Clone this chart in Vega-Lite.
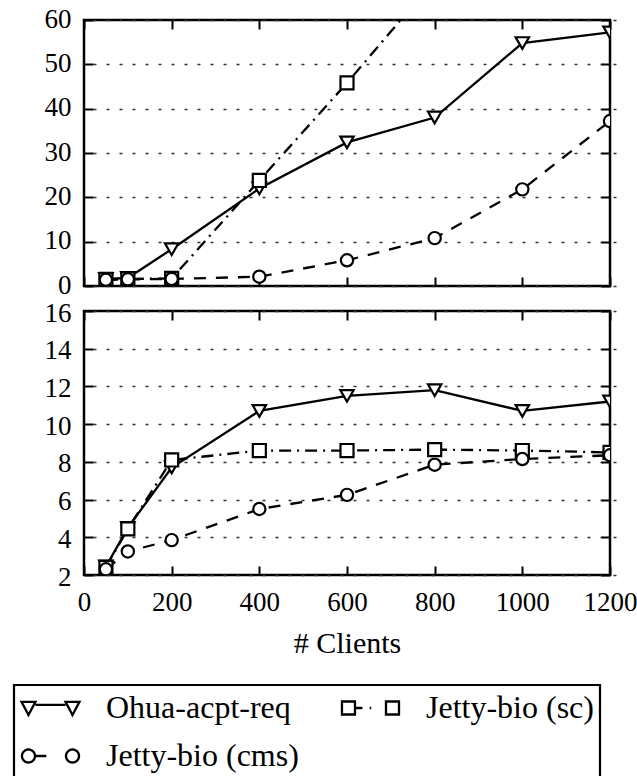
{
  "$schema": "https://vega.github.io/schema/vega-lite/v6.json",
  "background": "white",
  "padding": {"left": 12, "top": 3, "right": 0, "bottom": 0},
  "datasets": {
    "top": [
      {"series": "Ohua-acpt-req", "clients": 50, "value": 1.6},
      {"series": "Ohua-acpt-req", "clients": 100, "value": 1.8},
      {"series": "Ohua-acpt-req", "clients": 200, "value": 8.3},
      {"series": "Ohua-acpt-req", "clients": 400, "value": 22.0},
      {"series": "Ohua-acpt-req", "clients": 600, "value": 32.4},
      {"series": "Ohua-acpt-req", "clients": 800, "value": 38.0},
      {"series": "Ohua-acpt-req", "clients": 1000, "value": 54.8},
      {"series": "Ohua-acpt-req", "clients": 1200, "value": 57.2},
      {"series": "Jetty-bio (sc)", "clients": 50, "value": 1.5},
      {"series": "Jetty-bio (sc)", "clients": 100, "value": 1.6},
      {"series": "Jetty-bio (sc)", "clients": 200, "value": 1.7},
      {"series": "Jetty-bio (sc)", "clients": 400, "value": 23.8},
      {"series": "Jetty-bio (sc)", "clients": 600, "value": 45.8},
      {"series": "Jetty-bio (sc)", "clients": 800, "value": 69.0},
      {"series": "Jetty-bio (cms)", "clients": 50, "value": 1.4},
      {"series": "Jetty-bio (cms)", "clients": 100, "value": 1.5},
      {"series": "Jetty-bio (cms)", "clients": 200, "value": 1.6},
      {"series": "Jetty-bio (cms)", "clients": 400, "value": 2.1},
      {"series": "Jetty-bio (cms)", "clients": 600, "value": 5.8},
      {"series": "Jetty-bio (cms)", "clients": 800, "value": 10.8},
      {"series": "Jetty-bio (cms)", "clients": 1000, "value": 21.8},
      {"series": "Jetty-bio (cms)", "clients": 1200, "value": 37.2}
    ],
    "bottom": [
      {"series": "Ohua-acpt-req", "clients": 50, "value": 2.45},
      {"series": "Ohua-acpt-req", "clients": 100, "value": 4.5},
      {"series": "Ohua-acpt-req", "clients": 200, "value": 7.7},
      {"series": "Ohua-acpt-req", "clients": 400, "value": 10.7},
      {"series": "Ohua-acpt-req", "clients": 600, "value": 11.5},
      {"series": "Ohua-acpt-req", "clients": 800, "value": 11.8},
      {"series": "Ohua-acpt-req", "clients": 1000, "value": 10.7},
      {"series": "Ohua-acpt-req", "clients": 1200, "value": 11.2},
      {"series": "Jetty-bio (sc)", "clients": 50, "value": 2.4},
      {"series": "Jetty-bio (sc)", "clients": 100, "value": 4.45},
      {"series": "Jetty-bio (sc)", "clients": 200, "value": 8.1},
      {"series": "Jetty-bio (sc)", "clients": 400, "value": 8.6},
      {"series": "Jetty-bio (sc)", "clients": 600, "value": 8.6},
      {"series": "Jetty-bio (sc)", "clients": 800, "value": 8.65},
      {"series": "Jetty-bio (sc)", "clients": 1000, "value": 8.6},
      {"series": "Jetty-bio (sc)", "clients": 1200, "value": 8.5},
      {"series": "Jetty-bio (cms)", "clients": 50, "value": 2.3},
      {"series": "Jetty-bio (cms)", "clients": 100, "value": 3.25},
      {"series": "Jetty-bio (cms)", "clients": 200, "value": 3.85},
      {"series": "Jetty-bio (cms)", "clients": 400, "value": 5.5},
      {"series": "Jetty-bio (cms)", "clients": 600, "value": 6.25},
      {"series": "Jetty-bio (cms)", "clients": 800, "value": 7.85},
      {"series": "Jetty-bio (cms)", "clients": 1000, "value": 8.15},
      {"series": "Jetty-bio (cms)", "clients": 1200, "value": 8.35}
    ]
  },
  "bounds": "flush",
  "spacing": 25,
  "vconcat": [
    {
      "width": 526,
      "height": 266,
      "data": {"name": "top"},
      "encoding": {
        "x": {"field": "clients", "type": "quantitative", "scale": {"domain": [0, 1200]}, "axis": null},
        "y": {"field": "value", "type": "quantitative", "scale": {"domain": [0, 60]}, "axis": null}
      },
      "layer": [
        {
          "transform": [{"filter": "datum.series === 'Ohua-acpt-req'"}],
          "mark": {"type": "line", "clip": true, "strokeWidth": 2.3},
          "encoding": {
            "x": {"field": "clients", "type": "quantitative",
                  "axis": {"orient": "bottom", "values": [0, 200, 400, 600, 800, 1000, 1200], "labels": false, "title": null}},
            "y": {"field": "value", "type": "quantitative",
                  "axis": {"orient": "left", "values": [0, 10, 20, 30, 40, 50, 60], "grid": true, "title": null, "labelPadding": 13, "labelOffset": -1,
                           "labelFont": "Liberation Serif, DejaVu Serif, serif", "labelFontSize": 27, "labelColor": "black"}},
            "color": {
              "field": "series", "type": "nominal",
              "scale": {"domain": ["Ohua-acpt-req", "Jetty-bio (sc)", "Jetty-bio (cms)"], "range": ["black", "black", "black"]},
              "legend": {
                "orient": "none", "legendX": -70, "legendY": 665, "direction": "horizontal", "columns": 2, "title": null,
                "symbolSize": 961, "symbolStrokeWidth": 2.3, "symbolStrokeColor": "black", "symbolFillColor": "white", "symbolDash": [1, 0],
                "labelFont": "Liberation Serif, DejaVu Serif, serif", "labelFontSize": 32, "labelColor": "black", "labelOffset": 52, "labelLimit": 400,
                "columnPadding": 38, "rowPadding": 15, "padding": 6, "strokeColor": "black",
                "encode": {
                  "symbols": {"update": {
                    "shape": {"signal": "datum.value === 'Ohua-acpt-req' ? 'M-1,-0.4L-0.1,-0.4L-0.55,0.45Z M1.84,-0.4L2.74,-0.4L2.29,0.45Z M-0.1,-0.2H1.84' : datum.value === 'Jetty-bio (sc)' ? 'M-0.97,-0.42H-0.13V0.42H-0.97Z M1.87,-0.42H2.71V0.42H1.87Z M-0.13,0H0.35 M0.82,0H0.92' : 'M-0.97,0A0.42,0.42 0 1,0 -0.13,0A0.42,0.42 0 1,0 -0.97,0Z M1.87,0A0.42,0.42 0 1,0 2.71,0A0.42,0.42 0 1,0 1.87,0Z M-0.13,0H0.6'"},
                    "fill": {"value": "white"},
                    "stroke": {"value": "black"}
                  }},
                  "legend": {"update": {"strokeWidth": {"value": 2.2}}}
                }
              }
            }
          }
        },
        {
          "transform": [{"filter": "datum.series === 'Jetty-bio (sc)'"}],
          "mark": {"type": "line", "clip": true, "strokeWidth": 2.3, "strokeDash": [12, 6, 2, 6]},
          "encoding": {"color": {"field": "series", "type": "nominal", "legend": null}}
        },
        {
          "transform": [{"filter": "datum.series === 'Jetty-bio (cms)'"}],
          "mark": {"type": "line", "clip": true, "strokeWidth": 2.3, "strokeDash": [12, 10]},
          "encoding": {"color": {"field": "series", "type": "nominal", "legend": null}}
        },
        {
          "transform": [{"filter": "datum.series === 'Ohua-acpt-req'"}],
          "mark": {"type": "point", "shape": "triangle-down", "clip": true, "filled": true, "fill": "white", "stroke": "black", "strokeWidth": 2.2, "size": 180, "opacity": 1},
          "encoding": {
            "x": {"field": "clients", "type": "quantitative",
                  "axis": {"orient": "top", "values": [0, 200, 400, 600, 800, 1000, 1200], "labels": false, "title": null}},
            "y": {"field": "value", "type": "quantitative",
                  "axis": {"orient": "right", "values": [0, 10, 20, 30, 40, 50, 60], "labels": false, "title": null}}
          }
        },
        {
          "transform": [{"filter": "datum.series === 'Jetty-bio (sc)'"}],
          "mark": {"type": "point", "shape": "square", "clip": true, "filled": true, "fill": "white", "stroke": "black", "strokeWidth": 2.2, "size": 170, "opacity": 1}
        },
        {
          "transform": [{"filter": "datum.series === 'Jetty-bio (cms)'"}],
          "mark": {"type": "point", "shape": "circle", "clip": true, "filled": true, "fill": "white", "stroke": "black", "strokeWidth": 2.2, "size": 150, "opacity": 1}
        }
      ],
      "resolve": {"axis": {"x": "independent", "y": "independent"}}
    },
    {
      "width": 526,
      "height": 264,
      "data": {"name": "bottom"},
      "encoding": {
        "x": {"field": "clients", "type": "quantitative", "scale": {"domain": [0, 1200]}, "axis": null},
        "y": {"field": "value", "type": "quantitative", "scale": {"domain": [2, 16]}, "axis": null}
      },
      "layer": [
        {
          "transform": [{"filter": "datum.series === 'Ohua-acpt-req'"}],
          "mark": {"type": "line", "clip": true, "strokeWidth": 2.3},
          "encoding": {
            "x": {"field": "clients", "type": "quantitative",
                  "axis": {"orient": "bottom", "values": [0, 200, 400, 600, 800, 1000, 1200], "format": "d", "title": "# Clients", "labelPadding": 14,
                           "labelFont": "Liberation Serif, DejaVu Serif, serif", "labelFontSize": 27, "labelColor": "black",
                           "titleFont": "Liberation Serif, DejaVu Serif, serif", "titleFontSize": 30, "titleFontWeight": "normal", "titleColor": "black", "titlePadding": 13}},
            "y": {"field": "value", "type": "quantitative",
                  "axis": {"orient": "left", "values": [2, 4, 6, 8, 10, 12, 14, 16], "grid": true, "title": null, "labelPadding": 13, "labelOffset": 2,
                           "labelFont": "Liberation Serif, DejaVu Serif, serif", "labelFontSize": 27, "labelColor": "black"}},
            "color": {
              "field": "series", "type": "nominal",
              "scale": {"domain": ["Ohua-acpt-req", "Jetty-bio (sc)", "Jetty-bio (cms)"], "range": ["black", "black", "black"]},
              "legend": {
                "orient": "none", "legendX": -70, "legendY": 665, "direction": "horizontal", "columns": 2, "title": null,
                "symbolSize": 961, "symbolStrokeWidth": 2.3, "symbolStrokeColor": "black", "symbolFillColor": "white", "symbolDash": [1, 0],
                "labelFont": "Liberation Serif, DejaVu Serif, serif", "labelFontSize": 32, "labelColor": "black", "labelOffset": 52, "labelLimit": 400,
                "columnPadding": 38, "rowPadding": 15, "padding": 6, "strokeColor": "black",
                "encode": {
                  "symbols": {"update": {
                    "shape": {"signal": "datum.value === 'Ohua-acpt-req' ? 'M-1,-0.4L-0.1,-0.4L-0.55,0.45Z M1.84,-0.4L2.74,-0.4L2.29,0.45Z M-0.1,-0.2H1.84' : datum.value === 'Jetty-bio (sc)' ? 'M-0.97,-0.42H-0.13V0.42H-0.97Z M1.87,-0.42H2.71V0.42H1.87Z M-0.13,0H0.35 M0.82,0H0.92' : 'M-0.97,0A0.42,0.42 0 1,0 -0.13,0A0.42,0.42 0 1,0 -0.97,0Z M1.87,0A0.42,0.42 0 1,0 2.71,0A0.42,0.42 0 1,0 1.87,0Z M-0.13,0H0.6'"},
                    "fill": {"value": "white"},
                    "stroke": {"value": "black"}
                  }},
                  "legend": {"update": {"strokeWidth": {"value": 2.2}}}
                }
              }
            }
          }
        },
        {
          "transform": [{"filter": "datum.series === 'Jetty-bio (sc)'"}],
          "mark": {"type": "line", "clip": true, "strokeWidth": 2.3, "strokeDash": [12, 6, 2, 6]},
          "encoding": {"color": {"field": "series", "type": "nominal", "legend": null}}
        },
        {
          "transform": [{"filter": "datum.series === 'Jetty-bio (cms)'"}],
          "mark": {"type": "line", "clip": true, "strokeWidth": 2.3, "strokeDash": [12, 10]},
          "encoding": {"color": {"field": "series", "type": "nominal", "legend": null}}
        },
        {
          "transform": [{"filter": "datum.series === 'Ohua-acpt-req'"}],
          "mark": {"type": "point", "shape": "triangle-down", "clip": true, "filled": true, "fill": "white", "stroke": "black", "strokeWidth": 2.2, "size": 180, "opacity": 1},
          "encoding": {
            "x": {"field": "clients", "type": "quantitative",
                  "axis": {"orient": "top", "values": [0, 200, 400, 600, 800, 1000, 1200], "labels": false, "title": null}},
            "y": {"field": "value", "type": "quantitative",
                  "axis": {"orient": "right", "values": [2, 4, 6, 8, 10, 12, 14, 16], "labels": false, "title": null}}
          }
        },
        {
          "transform": [{"filter": "datum.series === 'Jetty-bio (sc)'"}],
          "mark": {"type": "point", "shape": "square", "clip": true, "filled": true, "fill": "white", "stroke": "black", "strokeWidth": 2.2, "size": 170, "opacity": 1}
        },
        {
          "transform": [{"filter": "datum.series === 'Jetty-bio (cms)'"}],
          "mark": {"type": "point", "shape": "circle", "clip": true, "filled": true, "fill": "white", "stroke": "black", "strokeWidth": 2.2, "size": 150, "opacity": 1}
        }
      ],
      "resolve": {"axis": {"x": "independent", "y": "independent"}}
    }
  ],
  "resolve": {
    "scale": {"y": "independent", "color": "shared"},
    "legend": {"color": "shared"}
  },
  "config": {
    "font": "Liberation Serif",
    "view": {"stroke": "black", "strokeWidth": 2.5},
    "axis": {
      "offset": -9,
      "tickSize": 9,
      "tickWidth": 2,
      "tickColor": "black",
      "domain": false,
      "labelFlush": false,
      "labelOverlap": false,
      "gridDash": [3, 10],
      "gridColor": "#333333",
      "gridWidth": 1.7
    },
    "axisY": {"grid": false},
    "axisX": {"grid": false}
  }
}
